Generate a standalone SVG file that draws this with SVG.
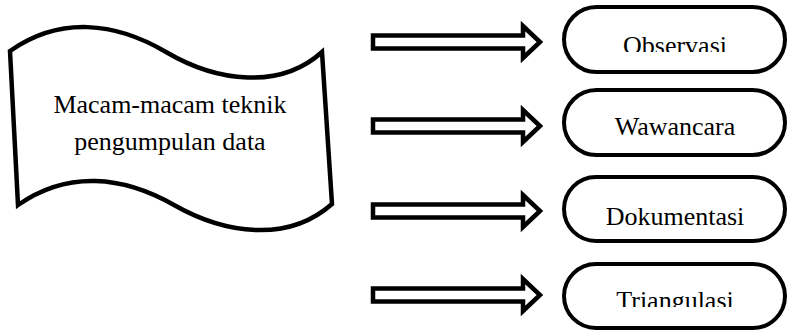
<svg xmlns="http://www.w3.org/2000/svg" width="788" height="330" viewBox="0 0 788 330">
<style>
.shape{fill:#fff;stroke:#000;stroke-width:4.5;stroke-linejoin:miter}
.pill{fill:#fff;stroke:#000;stroke-width:4}
.arrow{fill:#fff;stroke:#000;stroke-width:4.5;stroke-linejoin:miter;stroke-miterlimit:10}
text{font-family:"Liberation Serif","Times New Roman",serif;font-size:26px;fill:#000;text-anchor:middle}
</style>
<defs>
<path id="arr" d="M373,-6.5 H523 V-16 L540,0 L523,16 V6.5 H373 Z"/>
<clipPath id="clipObs"><rect x="560" y="0" width="228" height="52"/></clipPath>
<clipPath id="clipTri"><rect x="560" y="260" width="228" height="47"/></clipPath>
</defs>
<g id="source">
<path class="shape" d="M10,51 C60,16 115,22 166,52 S280,90 322,52 L332,204 C288,243 225,234 174,205 S68,170 18,205 Z"/>
<text x="170" y="113">Macam-macam teknik</text>
<text x="170" y="150">pengumpulan data</text>
</g>
<g id="connectors">
<use href="#arr" class="arrow" transform="translate(0,42)"/>
<use href="#arr" class="arrow" transform="translate(0,126)"/>
<use href="#arr" class="arrow" transform="translate(0,211)"/>
<use href="#arr" class="arrow" transform="translate(0,295)"/>
</g>
<g id="observasi">
<rect class="pill" x="564" y="7" width="221" height="65" rx="32.5"/>
<text x="675" y="54" clip-path="url(#clipObs)">Observasi</text>
</g>
<g id="wawancara">
<rect class="pill" x="564" y="90" width="221" height="65" rx="32.5"/>
<text x="675" y="135">Wawancara</text>
</g>
<g id="dokumentasi">
<rect class="pill" x="564" y="177" width="221" height="64" rx="32"/>
<text x="675" y="225">Dokumentasi</text>
</g>
<g id="triangulasi">
<rect class="pill" x="564" y="264" width="221" height="64" rx="32"/>
<text x="675" y="309" clip-path="url(#clipTri)">Triangulasi</text>
</g>
</svg>
